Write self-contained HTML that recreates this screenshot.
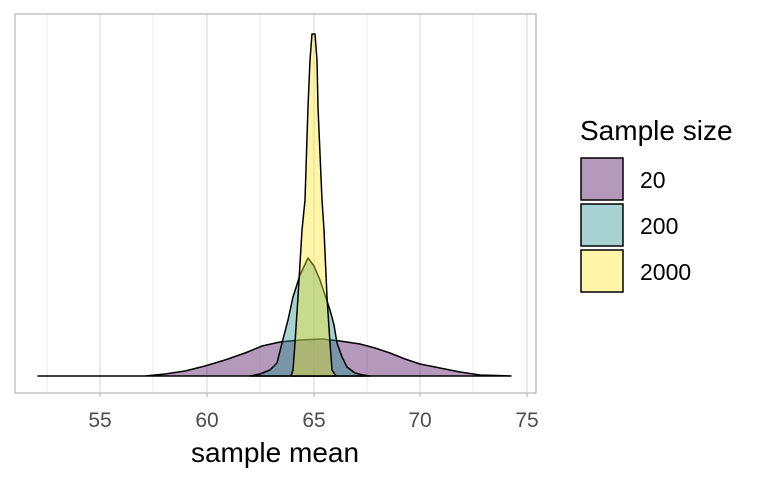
<!DOCTYPE html>
<html><head><meta charset="utf-8"><style>body{margin:0;background:#fff}svg{display:block;font-family:"Liberation Sans",sans-serif}</style></head><body>
<svg width="768" height="480" viewBox="0 0 768 480">
<g stroke="#dedede" stroke-width="0.6">
<line x1="47" y1="14" x2="47" y2="393"/><line x1="153" y1="14" x2="153" y2="393"/><line x1="260" y1="14" x2="260" y2="393"/><line x1="367" y1="14" x2="367" y2="393"/><line x1="473" y1="14" x2="473" y2="393"/>
</g>
<g stroke="#d9d9d9" stroke-width="1.1">
<line x1="100" y1="14" x2="100" y2="393"/><line x1="207" y1="14" x2="207" y2="393"/><line x1="314" y1="14" x2="314" y2="393"/><line x1="420" y1="14" x2="420" y2="393"/><line x1="527" y1="14" x2="527" y2="393"/>
</g>
<g stroke="#000" stroke-width="1.5" stroke-linejoin="round">
<path fill="#440154" fill-opacity="0.4" d="M38,376 L145,376 L165,374 L185,371 L205,366 L225,360 L245,353 L262,346 L280,342 L300,340 L322,339 L340,341 L360,344 L375,348 L390,353 L405,359 L420,364 L440,368 L460,372 L480,375 L511,376 Z"/>
<path fill="#21908C" fill-opacity="0.4" d="M250,376 L260,374 L270,370 L277,363 L282,343 L288,320 L293,297 L300,275 L308,258 L314,266 L320,280 L325,295 L330,310 L334,325 L337,343 L342,357 L347,367 L355,373 L363,375 L370,376 Z"/>
<path fill="#FDE725" fill-opacity="0.4" d="M291,376 L293,370 L295,343 L298,297 L302,230 L305,200 L308,107 L310,60 L312,34 L315,34 L317,60 L318,107 L322,200 L324,230 L327,297 L330,343 L332,370 L336,376 Z"/>
</g>
<rect x="15" y="14" width="521" height="379" fill="none" stroke="#b3b3b3" stroke-width="1.2"/>
<g stroke="#b3b3b3" stroke-width="1.1">
<line x1="100" y1="393" x2="100" y2="397"/><line x1="207" y1="393" x2="207" y2="397"/><line x1="314" y1="393" x2="314" y2="397"/><line x1="420" y1="393" x2="420" y2="397"/><line x1="527" y1="393" x2="527" y2="397"/>
</g>
<g font-size="21" fill="#4d4d4d" text-anchor="middle">
<text x="100" y="427">55</text><text x="207" y="427">60</text><text x="314" y="427">65</text><text x="420" y="427">70</text><text x="527" y="427">75</text>
</g>
<text x="275" y="462" font-size="28" text-anchor="middle" fill="#000">sample mean</text>
<text x="580" y="140" font-size="28" fill="#000">Sample size</text>
<g stroke="#000" stroke-width="1.5">
<rect x="581" y="158" width="42" height="42" fill="#440154" fill-opacity="0.4"/>
<rect x="581" y="204" width="42" height="42" fill="#21908C" fill-opacity="0.4"/>
<rect x="581" y="250" width="42" height="42" fill="#FDE725" fill-opacity="0.4"/>
</g>
<g font-size="23" fill="#000">
<text x="640" y="188">20</text><text x="640" y="234">200</text><text x="640" y="280">2000</text>
</g>
</svg>
</body></html>
